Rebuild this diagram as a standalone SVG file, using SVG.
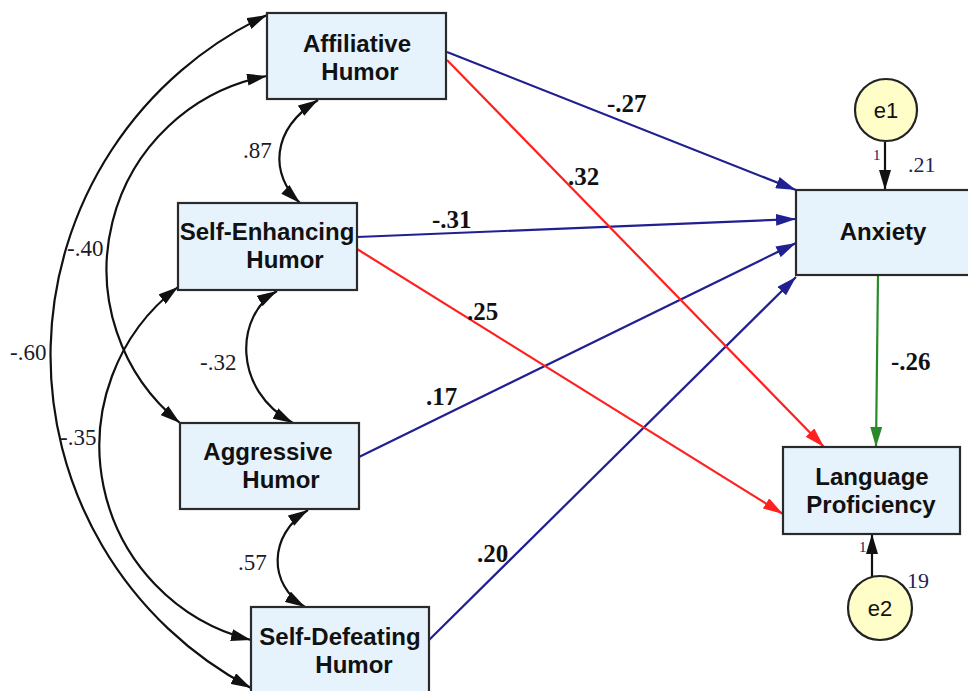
<svg xmlns="http://www.w3.org/2000/svg" width="968" height="691" viewBox="0 0 968 691">
<style>
.box{fill:#e6f3fc;stroke:#2a2a2a;stroke-width:2.2}
.err{fill:#fffdc8;stroke:#222;stroke-width:2.2}
.nt{font-family:"Liberation Sans",Arial,sans-serif;font-weight:bold;font-size:24px;fill:#111;text-anchor:middle}
.et{font-family:"Liberation Sans",Arial,sans-serif;font-size:22px;fill:#111;text-anchor:middle}
.rl{font-family:"Liberation Serif","Times New Roman",serif;font-weight:bold;font-size:25px;fill:#111}
.cl{font-family:"Liberation Serif","Times New Roman",serif;font-size:23px;fill:#1a1a2a}
.sl{font-family:"Liberation Serif","Times New Roman",serif;font-size:22px;fill:#22225a}
.one{font-family:"Liberation Serif","Times New Roman",serif;font-size:15px;fill:#22225a}
.blue{stroke:#202090;stroke-width:2.2;fill:none;marker-end:url(#mb)}
.red{stroke:#ff2020;stroke-width:2.2;fill:none;marker-end:url(#mr)}
.green{stroke:#2a8a2a;stroke-width:2.2;fill:none;marker-end:url(#mg)}
.blk{stroke:#111;stroke-width:2.2;fill:none;marker-end:url(#mk)}
.cov{stroke:#111;stroke-width:2.2;fill:none;marker-start:url(#mk);marker-end:url(#mk)}
</style>
<defs>
<marker id="mb" viewBox="0 0 20 12" refX="20" refY="6" markerWidth="20" markerHeight="12" markerUnits="userSpaceOnUse" orient="auto-start-reverse"><path d="M0,0 L20,6 L0,12 z" fill="#202090"/></marker>
<marker id="mr" viewBox="0 0 20 12" refX="20" refY="6" markerWidth="20" markerHeight="12" markerUnits="userSpaceOnUse" orient="auto-start-reverse"><path d="M0,0 L20,6 L0,12 z" fill="#ff2020"/></marker>
<marker id="mg" viewBox="0 0 20 12" refX="20" refY="6" markerWidth="20" markerHeight="12" markerUnits="userSpaceOnUse" orient="auto-start-reverse"><path d="M0,0 L20,6 L0,12 z" fill="#2a8a2a"/></marker>
<marker id="mk" viewBox="0 0 20 12" refX="20" refY="6" markerWidth="20" markerHeight="12" markerUnits="userSpaceOnUse" orient="auto-start-reverse"><path d="M0,0 L20,6 L0,12 z" fill="#111"/></marker>
</defs>
<rect width="968" height="691" fill="#fff"/>

<g id="connectors">
  <path class="blue" d="M447 52 L796 190"/>
  <path class="blue" d="M357 237 L796 219"/>
  <path class="blue" d="M359 457 L796 243"/>
  <path class="blue" d="M429 640 L796 277"/>
  <path class="red" d="M447 60 L824 447"/>
  <path class="red" d="M357 249 L783 514"/>
  <path class="green" d="M878 275 L876 447"/>
  <path class="blk" d="M885 142 L885 190"/>
  <path class="blk" d="M872 577 L872 534"/>
  <path class="cov" d="M318 100 C 270 130, 270 175, 300 203"/>
  <path class="cov" d="M277 291 C 235 315, 232 390, 293 423"/>
  <path class="cov" d="M308 510 C 268 535, 268 585, 305 607"/>
  <path class="cov" d="M267 76 A 197 197 0 0 0 180 423"/>
  <path class="cov" d="M267 15 A 376 376 0 0 0 251 688"/>
  <path class="cov" d="M178 287 A 200 200 0 0 0 251 640"/>
  <text class="rl" x="607" y="112">-.27</text>
  <text class="rl" x="432" y="228">-.31</text>
  <text class="rl" x="568" y="185">.32</text>
  <text class="rl" x="467" y="320">.25</text>
  <text class="rl" x="426" y="405">.17</text>
  <text class="rl" x="477" y="562">.20</text>
  <text class="rl" x="891" y="370">-.26</text>
  <text class="cl" x="243" y="158">.87</text>
  <text class="cl" x="200" y="370">-.32</text>
  <text class="cl" x="238" y="570">.57</text>
  <text class="cl" x="67" y="256">-.40</text>
  <text class="cl" x="10" y="360">-.60</text>
  <text class="cl" x="60" y="445">-.35</text>
  <text class="one" x="873" y="160">1</text>
  <text class="sl" x="908" y="172">.21</text>
  <text class="one" x="859" y="552">1</text>
  <text class="sl" x="907" y="588">19</text>
</g>

<g id="affiliative">
  <rect class="box" x="267" y="13" width="179" height="86"/>
  <text class="nt" x="357" y="52">Affiliative</text>
  <text class="nt" x="360" y="80">Humor</text>
</g>
<g id="self-enhancing">
  <rect class="box" x="178" y="203" width="179" height="87"/>
  <text class="nt" x="267" y="240">Self-Enhancing</text>
  <text class="nt" x="285" y="268">Humor</text>
</g>
<g id="aggressive">
  <rect class="box" x="180" y="423" width="179" height="86"/>
  <text class="nt" x="268" y="460">Aggressive</text>
  <text class="nt" x="281" y="488">Humor</text>
</g>
<g id="self-defeating">
  <rect class="box" x="251" y="607" width="178" height="90"/>
  <text class="nt" x="340" y="645">Self-Defeating</text>
  <text class="nt" x="354" y="673">Humor</text>
</g>
<g id="anxiety">
  <rect class="box" x="796" y="190" width="176" height="85"/>
  <text class="nt" x="883" y="240">Anxiety</text>
</g>
<g id="language-proficiency">
  <rect class="box" x="783" y="447" width="177" height="87"/>
  <text class="nt" x="872" y="485">Language</text>
  <text class="nt" x="871" y="513">Proficiency</text>
</g>
<g id="e1">
  <circle class="err" cx="886" cy="110" r="31"/>
  <text class="et" x="886" y="118">e1</text>
</g>
<g id="e2">
  <circle class="err" cx="880" cy="608" r="32"/>
  <text class="et" x="880" y="616">e2</text>
</g>
</svg>
